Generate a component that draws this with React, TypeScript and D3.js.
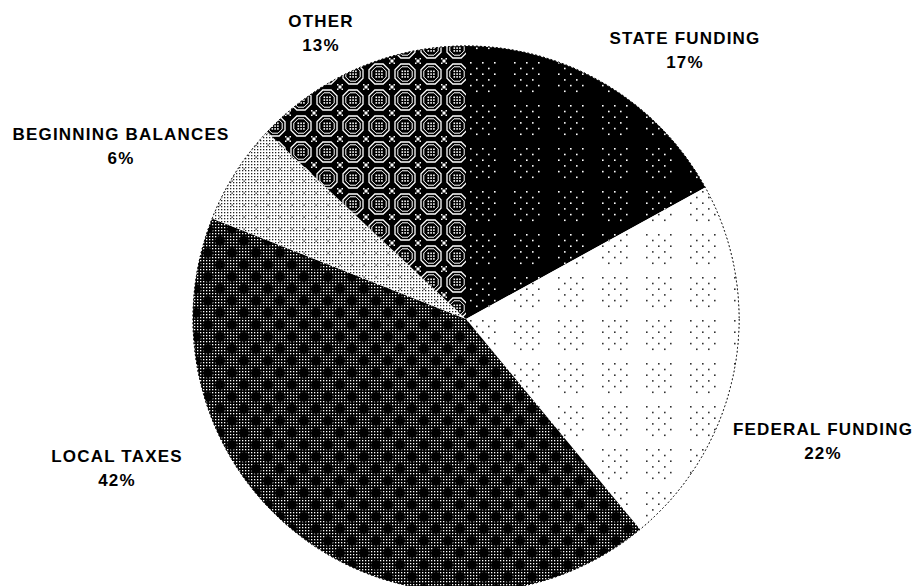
import React from "react";
import * as d3 from "d3";

const categories = ["STATE FUNDING", "FEDERAL FUNDING", "LOCAL TAXES", "BEGINNING BALANCES", "OTHER"];
const values = [17, 22, 42, 6, 13];
const pctLabels = ["17%", "22%", "42%", "6%", "13%"];

const W = 916;
const H = 586;
const CX = 466;
const CY = 319;
const R = 273;

// label anchor points (text centre x, first-line baseline y)
const labelLayout = [
  { x: 685, y: 44 },
  { x: 823, y: 435 },
  { x: 117, y: 462 },
  { x: 121, y: 140 },
  { x: 321, y: 27 },
];

const patternIds = ["pState", "pFederal", "pLocal", "pBegin", "pOther"];

// cluster of dots used by state & federal patterns
const clusterDots: [number, number][] = [];
for (let r = 0; r < 6; r++) {
  const xs = r % 2 === 0 ? [0, 12, 24] : [6, 18];
  xs.forEach((x) => clusterDots.push([x, r * 5.7]));
}

const gridDots = (step: number, size: number) => {
  const out: [number, number][] = [];
  for (let y = 0; y < size; y += step) for (let x = 0; x < size; x += step) out.push([x, y]);
  return out;
};

const octagon = (c: number, r: number) => {
  const k = r * 0.414;
  return [
    [c - k, c - r], [c + k, c - r], [c + r, c - k], [c + r, c + k],
    [c + k, c + r], [c - k, c + r], [c - r, c + k], [c - r, c - k],
  ].map((p) => p.join(",")).join(" ");
};

export default function App() {
  const pie = d3.pie<number>().sort(null).startAngle(0).endAngle(2 * Math.PI);
  const arcs = pie(values);
  const arc = d3.arc<d3.PieArcDatum<number>>().innerRadius(0).outerRadius(R);
  const font = "'Liberation Sans', Arial, sans-serif";

  return (
    <svg width={W} height={H} style={{ position: "absolute", left: 0, top: 0, background: "#fff" }}>
      <defs>
        <pattern id="pState" patternUnits="userSpaceOnUse" width={44} height={43} x={3} y={0}>
          <rect width={44} height={43} fill="#000" />
          {clusterDots.map(([x, y], i) => (
            <rect key={i} x={x + 1} y={y + 1} width={1.6} height={1.6} fill="#fff" />
          ))}
        </pattern>
        <pattern id="pFederal" patternUnits="userSpaceOnUse" width={44} height={43} x={3} y={0}>
          <rect width={44} height={43} fill="#fff" />
          {clusterDots.map(([x, y], i) => (
            <rect key={i} x={x + 1} y={y + 1} width={1.6} height={1.6} fill="#333" />
          ))}
        </pattern>
        <pattern id="pLocal" patternUnits="userSpaceOnUse" width={24} height={24}>
          <rect width={24} height={24} fill="#000" />
          {gridDots(3, 24).map(([x, y], i) => (
            <rect key={i} x={x + 1} y={y + 1} width={1.3} height={1.3} fill="#fff" />
          ))}
          <circle cx={6} cy={6} r={5} fill="#000" />
          <circle cx={18} cy={18} r={5} fill="#000" />
        </pattern>
        <pattern id="pBegin" patternUnits="userSpaceOnUse" width={12} height={12}>
          <rect width={12} height={12} fill="#fff" />
          {gridDots(3, 12).map(([x, y], i) => (
            <rect key={i} x={x + 1} y={y + 1} width={1.3} height={1.3} fill="#222" />
          ))}
          <rect x={5.5} y={5.5} width={1.3} height={1.3} fill="#222" />
        </pattern>
        <pattern id="pOther" patternUnits="userSpaceOnUse" width={26} height={26} x={4} y={2}>
          <rect width={26} height={26} fill="#000" />
          <polygon points={octagon(13, 10)} fill="none" stroke="#fff" strokeWidth={1.3} />
          <polygon points={octagon(13, 7.2)} fill="none" stroke="#fff" strokeWidth={1} />
          {[9.5, 12.3, 15.1].map((x) =>
            [9.5, 12.3, 15.1].map((y) => (
              <rect key={`${x}-${y}`} x={x} y={y} width={1.6} height={1.6} fill="#fff" />
            ))
          )}
          {[
            [0, 0], [24.5, 0], [0, 24.5], [24.5, 24.5],
            [1.5, 1.5], [23, 1.5], [1.5, 23], [23, 23],
          ].map(([x, y], i) => (
            <rect key={i} x={x} y={y} width={1.5} height={1.5} fill="#fff" />
          ))}
        </pattern>
      </defs>
      <g transform={`translate(${CX},${CY})`}>
        <circle r={R} fill="none" stroke="#000" strokeWidth={1} strokeDasharray="2 2" />
        {arcs.map((a, i) => (
          <path key={i} d={arc(a) || ""} fill={`url(#${patternIds[i]})`} />
        ))}
        <circle r={R} fill="none" stroke="#000" strokeWidth={0.8} strokeDasharray="1.5 2.5" />
      </g>
      {categories.map((c, i) => (
        <g key={c} fontFamily={font} fontWeight="bold" fontSize={17} textAnchor="middle" fill="#000">
          <text x={labelLayout[i].x} y={labelLayout[i].y} letterSpacing={1.2}>
            {c}
          </text>
          <text x={labelLayout[i].x} y={labelLayout[i].y + 24} letterSpacing={1.2}>
            {pctLabels[i]}
          </text>
        </g>
      ))}
    </svg>
  );
}
